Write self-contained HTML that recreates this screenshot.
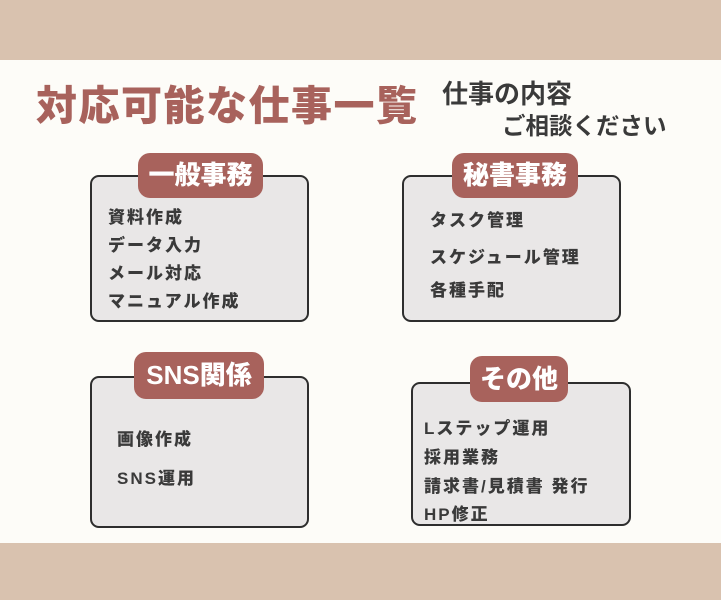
<!DOCTYPE html>
<html><head><meta charset="utf-8"><style>
body{margin:0;width:721px;height:600px;background:#fdfcf8;position:relative;overflow:hidden;font-family:"Liberation Sans","Noto Sans CJK JP",sans-serif;font-weight:bold;color:#3a3a3a}
.band{position:absolute;left:0;width:721px;background:#d9c2af}
.box{position:absolute;background:#e9e7e7;border:2px solid #2e2e2e;border-radius:9px;box-sizing:border-box}
.tag{position:absolute;background:#a8625c;color:#fff;border-radius:12px;font-size:26px;text-align:center;box-sizing:border-box;font-weight:900}
.t{position:absolute;font-size:17px;letter-spacing:2px;white-space:nowrap;font-weight:900}
</style></head><body>
<div class="band" style="top:0;height:60px"></div>
<div class="band" style="top:543px;height:57px"></div>
<div style="position:absolute;left:36px;top:72px;font-size:41px;color:#a8625c;letter-spacing:1.5px;font-weight:900;white-space:nowrap">対応可能な仕事一覧</div>
<div style="position:absolute;left:442px;top:74px;font-size:26px;white-space:nowrap">仕事の内容</div>
<div style="position:absolute;left:502px;top:107px;font-size:23.5px;white-space:nowrap">ご相談ください</div>

<div class="box" style="left:90px;top:175px;width:219px;height:147px"></div>
<div class="tag" style="left:138px;top:153px;width:125px;height:45px;line-height:45px">一般事務</div>
<div class="t" style="left:108px;top:203px">資料作成</div>
<div class="t" style="left:108px;top:231px">データ入力</div>
<div class="t" style="left:108px;top:259px">メール対応</div>
<div class="t" style="left:108px;top:287px">マニュアル作成</div>

<div class="box" style="left:402px;top:175px;width:219px;height:147px"></div>
<div class="tag" style="left:452px;top:153px;width:126px;height:45px;line-height:45px">秘書事務</div>
<div class="t" style="left:430px;top:206px">タスク管理</div>
<div class="t" style="left:430px;top:243px">スケジュール管理</div>
<div class="t" style="left:430px;top:276px">各種手配</div>

<div class="box" style="left:90px;top:376px;width:219px;height:152px"></div>
<div class="tag" style="left:134px;top:352px;width:130px;height:47px;line-height:47px">SNS関係</div>
<div class="t" style="left:117px;top:425px">画像作成</div>
<div class="t" style="left:117px;top:464px">SNS運用</div>

<div class="box" style="left:411px;top:382px;width:220px;height:144px"></div>
<div class="tag" style="left:470px;top:356px;width:98px;height:46px;line-height:46px">その他</div>
<div class="t" style="left:424px;top:414px">Lステップ運用</div>
<div class="t" style="left:424px;top:443px">採用業務</div>
<div class="t" style="left:424px;top:472px">請求書/見積書 発行</div>
<div class="t" style="left:424px;top:500px">HP修正</div>
</body></html>
